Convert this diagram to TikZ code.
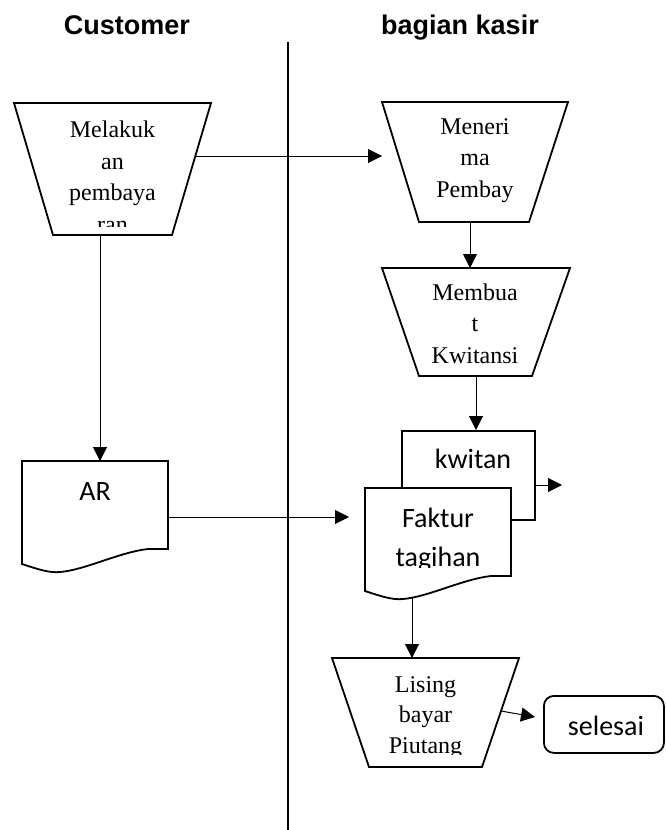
\documentclass[tikz,border=0pt]{standalone}
\usepackage{fontspec}
\setmainfont{Liberation Serif}
\newfontfamily\carl{Carlito}
\newfontfamily\hdr{Liberation Sans}
\usetikzlibrary{arrows.meta}
\begin{document}
\begin{tikzpicture}[x=1pt,y=-1pt,
  shapeline/.style={draw, line width=1.8pt, fill=white, line join=miter},
  conn/.style={line width=1pt, -{Triangle[length=14pt,width=14pt]}},
  sertext/.style={inner sep=0, align=center, anchor=north, font=\fontsize{24}{31.5}\selectfont},
  sanstext/.style={inner sep=0, anchor=base, font=\carl\fontsize{28}{40}\selectfont},
  header/.style={inner sep=0, anchor=base, font=\hdr\bfseries\fontsize{27}{32}\selectfont}
]
\useasboundingbox (0,0) rectangle (665,830);

% headers and swimlane separator
\node[header] (hcust) at (127,34) {Customer};
\node[header] (hkasir) at (460,34) {bagian kasir};
\draw[line width=2pt] (288,42) -- (288,830);

% trapezoids
\draw[shapeline] (14,103) -- (211,103) -- (172,235) -- (53,235) -- cycle;
\draw[shapeline] (382,102) -- (568,102) -- (529,222) -- (419,222) -- cycle;
\draw[shapeline] (382,268) -- (570,268) -- (532,376) -- (419,376) -- cycle;
\draw[shapeline] (332,658) -- (519,658) -- (482,767) -- (369,767) -- cycle;

% documents
\draw[shapeline] (22,461) -- (168,461) -- (168,549) -- (148,549)
  .. controls (120,552) and (85,570) .. (60,572)
  .. controls (50,573) and (40,570) .. (22,564) -- cycle;
\node[draw, line width=1.8pt, fill=white, minimum width=133pt, minimum height=89pt, inner sep=0, anchor=north west] (kwit) at (401,430) {};
\begin{scope}[shift={(343,27)}]
\draw[shapeline] (22,461) -- (168,461) -- (168,549) -- (148,549)
  .. controls (120,552) and (85,570) .. (60,572)
  .. controls (50,573) and (40,570) .. (22,564) -- cycle;
\end{scope}

% terminator
\node[draw, line width=1.8pt, rounded corners=10pt, minimum width=120pt, minimum height=57pt, inner sep=0, anchor=north west] (selbox) at (543,695) {};

% texts
\begin{scope}
\clip (14,103) rectangle (211,226);
\node[sertext] (t1) at (112.5,115.5) {Melakuk\strut\\an\strut\\pembaya\strut\\ran\strut};
\end{scope}
\node[sertext] (t2) at (475,112) {Meneri\strut\\ma\strut\\Pembay\strut};
\node[sertext] (t3) at (475,278) {Membua\strut\\t\strut\\Kwitansi\strut};
\begin{scope}
\clip (332,658) rectangle (519,754);
\node[sertext, font=\fontsize{24}{30.5}\selectfont] (t4) at (425.5,670.6) {Lising\strut\\bayar\strut\\Piutang\strut};
\end{scope}
\node[sanstext] (tar) at (95,500) {AR};
\node[sanstext] (tkw) at (473,468) {kwitan};
\begin{scope}
\clip (365,488) rectangle (511,567);
\node[sanstext] (tf1) at (438,527) {Faktur};
\node[sanstext] (tf2) at (438,566) {tagihan};
\end{scope}
\node[sanstext] (tsel) at (606,735) {selesai};

% connector end points
\coordinate (m1r) at (195,156);
\coordinate (m2l) at (382,156);
\coordinate (m1b) at (100,235);
\coordinate (art) at (100,461);
\coordinate (m2b) at (470,222);
\coordinate (m3t) at (470,268);
\coordinate (m3b) at (476,376);
\coordinate (kwt) at (476,430);
\coordinate (kwr) at (535,485);
\coordinate (kwo) at (562,485);
\coordinate (arr) at (169,517);
\coordinate (fkl) at (349,517);
\coordinate (fkb) at (412,597);
\coordinate (lst) at (412,658);
\coordinate (lsr) at (501,711);
\coordinate (sell) at (535,717);

% connectors
\draw[conn] (m1r) -- (m2l);
\draw[conn] (m1b) -- (art);
\draw[conn] (m2b) -- (m3t);
\draw[conn] (m3b) -- (kwt);
\draw[conn] (kwr) -- (kwo);
\draw[conn] (arr) -- (fkl);
\draw[conn] (fkb) -- (lst);
\draw[conn] (lsr) -- (sell);
\end{tikzpicture}
\end{document}
